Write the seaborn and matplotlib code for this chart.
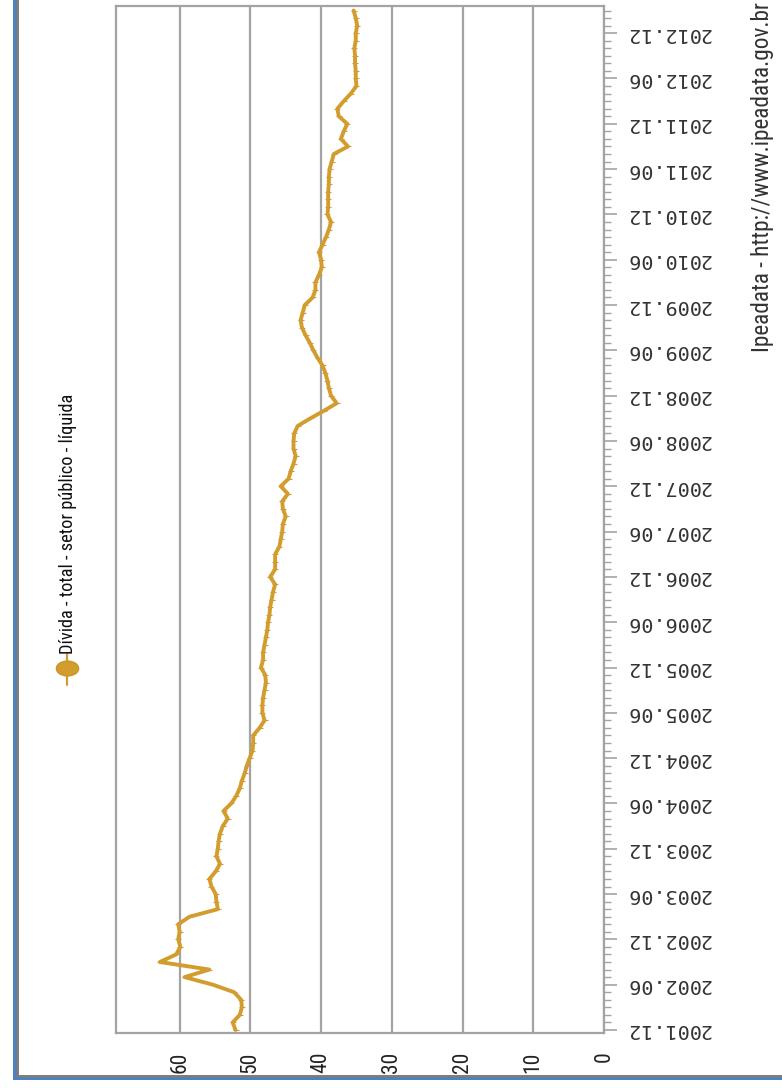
import numpy as np
import pandas as pd
import matplotlib
matplotlib.use("Agg")
import matplotlib.pyplot as plt
import seaborn as sns
from matplotlib.ticker import MultipleLocator
from matplotlib.lines import Line2D
from matplotlib.patches import Rectangle
from matplotlib.path import Path
from matplotlib.markers import MarkerStyle
from matplotlib.transforms import Affine2D
from matplotlib import font_manager

# Divida liquida do setor publico (% PIB), mensal, 2001.12 .. 2013.03
divida = [
    52.1, 52.5, 51.5, 51.2, 51.3, 52.3, 55.3, 59.3, 55.8, 62.8, 60.5, 59.9,
    60.2, 60.0, 60.2, 58.6, 54.6, 54.8, 54.9, 55.5, 55.8, 54.9, 54.3, 54.8,
    54.6, 54.5, 54.3, 53.9, 53.2, 53.8, 52.7, 52.0, 51.5, 51.2, 50.8, 50.5,
    50.1, 49.7, 49.6, 49.6, 48.7, 48.0, 48.3, 48.3, 48.2, 48.0, 47.8, 47.9,
    48.5, 48.2, 48.2, 48.0, 47.8, 47.6, 47.5, 47.3, 47.2, 47.0, 46.8, 46.5,
    47.2, 46.5, 46.5, 46.5, 45.9, 45.7, 45.5, 45.4, 45.0, 45.4, 45.5, 44.7,
    45.7, 44.6, 44.3, 43.9, 43.6, 43.9, 43.9, 43.8, 43.3, 41.5, 39.6, 37.8,
    38.6, 38.9, 39.1, 39.4, 39.8, 40.5, 41.1, 41.6, 42.2, 42.7, 42.9, 42.6,
    42.3, 41.2, 40.8, 40.8, 40.3, 39.9, 40.0, 40.3, 39.8, 39.3, 38.9, 38.6,
    39.1, 39.0, 39.0, 39.0, 38.9, 38.9, 38.8, 38.5, 38.2, 36.2, 37.2, 36.8,
    36.3, 37.5, 37.7, 36.8, 35.8, 35.0, 35.1, 35.1, 35.2, 35.2, 35.3, 35.1,
    35.1, 34.9, 35.1, 35.4,
]
meses = pd.date_range("2001-12-01", periods=len(divida), freq="MS")
valor_ticks = [0, 10, 20, 30, 40, 50, 60]
data_ticks = list(range(0, len(divida), 6))
data_labels = [f"{meses[i].year}.{meses[i].month:02d}" for i in data_ticks]
serie_nome = "Dívida - total - setor público - líquida"
fonte = "Ipeadata - http://www.ipeadata.gov.br"

GOLD = "#D29D2E"
GRID = "#A3A3A3"
W, H = 782, 1088

sns.set_style("white")
available = {f.name for f in font_manager.fontManager.ttflist}
narrow = next((f for f in ["Liberation Sans Narrow", "Roboto Condensed", "Arial Narrow",
                           "Liberation Sans", "Roboto"] if f in available), "DejaVu Sans")
plt.rcParams["font.family"] = [narrow, "DejaVu Sans"]

df = pd.DataFrame({"mes": np.arange(len(divida)), "divida": divida})

fig = plt.figure(figsize=(W / 100, H / 100), dpi=100)
ax = fig.add_axes([116 / W, 55 / H, 488 / W, 1027 / H])

sns.lineplot(data=df, x="divida", y="mes", orient="y", sort=False, errorbar=None,
             color=GOLD, lw=2.8, marker="_", markersize=4, markeredgewidth=0.8,
             markeredgecolor=GOLD, ax=ax)

ax.set_xlim(69, 0)
ax.set_ylim(-0.4, 135.6)
ax.set_xlabel("")
ax.set_ylabel("")

ax.set_xticks(valor_ticks)
ax.set_xticklabels([str(v) for v in valor_ticks], rotation=90, family=narrow,
                   fontsize=15.5, color="#222222")
ax.xaxis.set_minor_locator(MultipleLocator(10 / 3))

ax.yaxis.tick_right()
ax.set_yticks(data_ticks)
ax.set_yticklabels(data_labels, rotation=180, family="DejaVu Sans Mono",
                   fontsize=14.5, color="#333333", va="center")
ax.yaxis.set_minor_locator(MultipleLocator(1))

ax.tick_params(axis="x", which="major", direction="out", length=6.5, width=1.2,
               color=GRID, pad=7)
ax.tick_params(axis="x", which="minor", direction="out", length=3, width=1.0, color=GRID)
ax.tick_params(axis="y", which="major", direction="out", length=9.5, width=1.2,
               color=GRID, pad=6, left=False, right=True)
ax.tick_params(axis="y", which="minor", direction="out", length=5, width=1.0,
               color=GRID, left=False, right=True)

ax.grid(axis="x", which="major", color=GRID, lw=1.6)
ax.grid(axis="y", visible=False)
for s in ax.spines.values():
    s.set_color(GRID)
    s.set_linewidth(1.6)

# legenda (desenhada na vertical)
ellipse = MarkerStyle(Path.unit_circle().transformed(Affine2D().scale(1.5, 1.0)))
fig.add_artist(Line2D([67 / W, 67 / W], [1 - 685 / H, 1 - 654 / H], color=GOLD, lw=1.6,
                      transform=fig.transFigure))
fig.add_artist(Line2D([67 / W], [1 - 668 / H], marker=ellipse, markersize=16,
                      color=GOLD, markeredgecolor="#C89528", transform=fig.transFigure))
leg = fig.text(68 / W, 1 - 654 / H, serie_nome, rotation=90, ha="center", va="bottom",
               family=narrow, fontsize=12, color="#111111")
cred = fig.text(762 / W, 1 - 352 / H, fonte, rotation=90, ha="center", va="bottom",
                family=narrow, fontsize=18, color="#333333")

fig.canvas.draw()
for t, target in ((leg, 261), (cred, 349)):
    bb = t.get_window_extent()
    t.set_fontsize(t.get_fontsize() * target / bb.height)

# moldura da janela
fig.add_artist(Rectangle((13 / W, 8 / H), 4 / W, 1 - 8 / H, transform=fig.transFigure,
                         color="#4F81BD", lw=0))
fig.add_artist(Rectangle((17 / W, 11 / H), 2 / W, 1 - 11 / H, transform=fig.transFigure,
                         color="#8C7B6B", lw=0))
fig.add_artist(Rectangle((13 / W, 8 / H), 1, 3 / H, transform=fig.transFigure,
                         color="#4F81BD", lw=0))
fig.add_artist(Rectangle((17 / W, 11 / H), 1, 2.5 / H, transform=fig.transFigure,
                         color="#8C7B6B", lw=0))

fig.savefig("out.png", dpi=100)
